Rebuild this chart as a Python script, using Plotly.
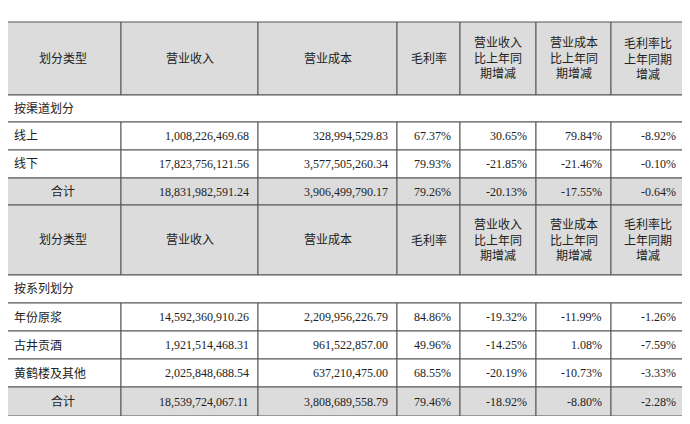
import plotly.graph_objects as go

unit_label = "单位：元"
headers = ["划分类型", "营业收入", "营业成本", "毛利率", "营业收入<br>比上年同<br>期增减", "营业成本<br>比上年同<br>期增减", "毛利率比<br>上年同期<br>增减"]
section1 = "按渠道划分"
channel_rows = ["线上", "线下"]
channel_revenue = ["1,008,226,469.68", "17,823,756,121.56"]
channel_cost = ["328,994,529.83", "3,577,505,260.34"]
channel_margin = ["67.37%", "79.93%"]
channel_rev_chg = ["30.65%", "-21.85%"]
channel_cost_chg = ["79.84%", "-21.46%"]
channel_margin_chg = ["-8.92%", "-0.10%"]
channel_total = ["合计", "18,831,982,591.24", "3,906,499,790.17", "79.26%", "-20.13%", "-17.55%", "-0.64%"]
section2 = "按系列划分"
series_rows = ["年份原浆", "古井贡酒", "黄鹤楼及其他"]
series_revenue = ["14,592,360,910.26", "1,921,514,468.31", "2,025,848,688.54"]
series_cost = ["2,209,956,226.79", "961,522,857.00", "637,210,475.00"]
series_margin = ["84.86%", "49.96%", "68.55%"]
series_rev_chg = ["-19.32%", "-14.25%", "-20.19%"]
series_cost_chg = ["-11.99%", "1.08%", "-10.73%"]
series_margin_chg = ["-1.26%", "-7.59%", "-3.33%"]
series_total = ["合计", "18,539,724,067.11", "3,808,689,558.79", "79.46%", "-18.92%", "-8.80%", "-2.28%"]

cols = [5, 121, 258, 397, 460, 536, 611, 685]
FONT = "Liberation Serif, Noto Sans CJK SC"
GRAY = "#dcdcdc"
LINE = "#555555"
shapes, anns = [], []

def rect(x0, x1, y0, y1, fill):
    shapes.append(dict(type="rect", xref="x", yref="y", x0=x0, x1=x1, y0=y0, y1=y1,
                       fillcolor=fill, line=dict(color=LINE, width=1)))

def text(x, y, s, align="center"):
    anns.append(dict(x=x, y=y, xref="x", yref="y", text=s, showarrow=False,
                     xanchor=align, yanchor="middle", align="center",
                     font=dict(family=FONT, size=12, color="#222")))

def header_row(y0, y1):
    for i in range(7):
        rect(cols[i], cols[i+1], y0, y1, GRAY)
        text((cols[i]+cols[i+1])/2, (y0+y1)/2, headers[i])

def span_row(y0, y1, s):
    rect(cols[0], cols[-1], y0, y1, "white")
    text(cols[0]+7, (y0+y1)/2, s, "left")

def data_row(y0, y1, vals, fill="white", total=False):
    for i in range(7):
        rect(cols[i], cols[i+1], y0, y1, fill)
        ym = (y0+y1)/2
        if i == 0:
            if total:
                text((cols[0]+cols[1])/2, ym, vals[0])
            else:
                text(cols[0]+7, ym, vals[0], "left")
        else:
            text(cols[i+1]-7, ym, vals[i], "right")

text(cols[-1], 12, unit_label, "right")
header_row(22, 95)
span_row(95, 122, section1)
y = 122
for k in range(len(channel_rows)):
    data_row(y, y+28, [channel_rows[k], channel_revenue[k], channel_cost[k], channel_margin[k],
                       channel_rev_chg[k], channel_cost_chg[k], channel_margin_chg[k]])
    y += 28
data_row(y, y+27, channel_total, GRAY, True)
y += 27
header_row(y, y+70)
y += 70
span_row(y, y+28, section2)
y += 28
for k in range(len(series_rows)):
    data_row(y, y+28, [series_rows[k], series_revenue[k], series_cost[k], series_margin[k],
                       series_rev_chg[k], series_cost_chg[k], series_margin_chg[k]])
    y += 28
data_row(y, y+29, series_total, GRAY, True)

fig = go.Figure()
fig.update_layout(width=674, height=408, margin=dict(l=0, r=0, t=0, b=0),
                  plot_bgcolor="white", paper_bgcolor="white",
                  xaxis=dict(range=[8, 682], visible=False, fixedrange=True),
                  yaxis=dict(range=[416, 8], visible=False, fixedrange=True),
                  shapes=shapes, annotations=anns, showlegend=False)
fig.write_html("out.html")
